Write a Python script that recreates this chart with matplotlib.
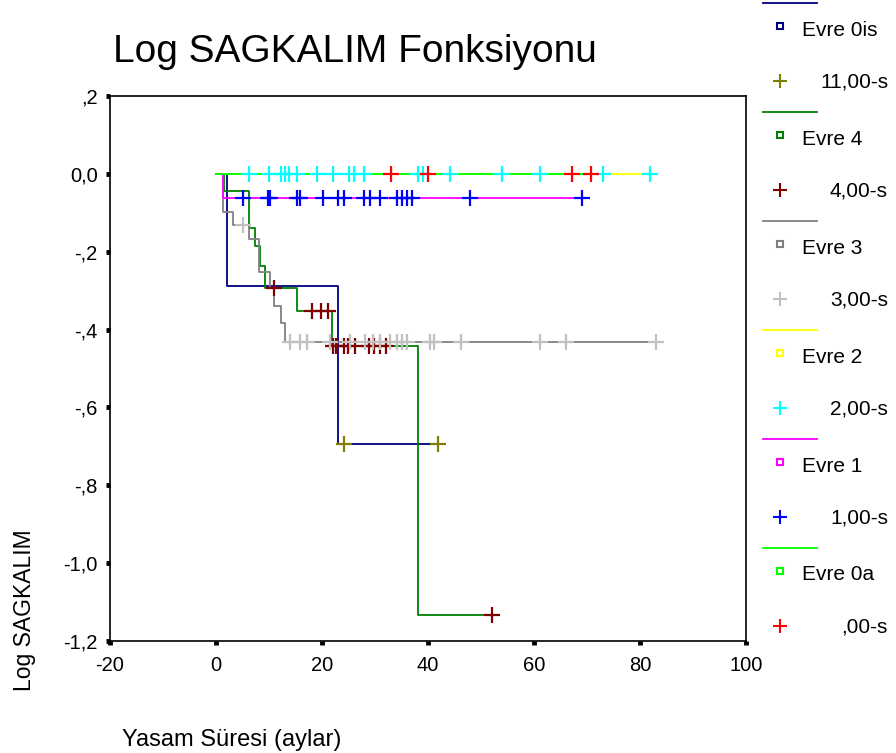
import numpy as np
import matplotlib
matplotlib.use("Agg")
import matplotlib.pyplot as plt

plt.rcParams['font.family'] = ['Liberation Sans', 'DejaVu Sans']

# ---------------- data ----------------
groups = ["Evre 0is", "Evre 4", "Evre 3", "Evre 2", "Evre 1", "Evre 0a"]
censor_labels = ["11,00-s", "4,00-s", "3,00-s", "2,00-s", "1,00-s", ",00-s"]
line_colors = ["#000080", "#008000", "#808080", "#FFFF00", "#FF00FF", "#00FF00"]
censor_colors = ["#808000", "#800000", "#C0C0C0", "#00FFFF", "#0000FF", "#FF0000"]

# step times and log-survival after each step
evre0is_t = [0, 2.0, 23.1]
evre0is_s = [0, -0.288, -0.693]
evre0is_end = 41.9
evre0is_c = [24.1, 41.9]

evre4_t = [0, 1.6, 6.3, 7.3, 8.3, 9.2, 15.3, 21.9, 38.2]
evre4_s = [0, -0.045, -0.138, -0.185, -0.236, -0.292, -0.353, -0.442, -1.132]
evre4_end = 52.0
evre4_c = [11.0, 18.1, 19.8, 21.1, 22.0, 22.6, 24.2, 24.9, 26.2, 28.8, 29.9,
           30.9, 32.1, 52.0]

evre3_t = [0, 1.3, 3.2, 6.2, 8.1, 10.1, 11.0, 12.2, 13.0]
evre3_s = [0, -0.097, -0.132, -0.168, -0.251, -0.292, -0.339, -0.384, -0.431]
evre3_end = 83.0
evre3_c = [5.1, 14.05, 15.9, 17.1, 21.6, 25.2, 28.2, 29.7, 31.0, 32.9, 34.1,
           35.1, 36.0, 40.4, 41.2, 46.2, 61.1, 66.1, 83.0]

evre2_t = [0]
evre2_s = [0]
evre2_end = 81.8
evre2_c = [6.3, 10.0, 12.2, 13.0, 13.7, 15.2, 19.1, 22.0, 25.1, 26.0, 28.0,
           38.2, 39.0, 44.2, 54.0, 61.1, 73.0, 81.8]

evre1_t = [0, 1.3]
evre1_s = [0, -0.061]
evre1_end = 69.0
evre1_c = [5.1, 9.9, 10.1, 15.3, 15.9, 20.1, 23.1, 24.2, 28.0, 29.1, 31.0,
           34.1, 35.1, 36.0, 37.0, 48.0, 69.0]

evre0a_t = [0]
evre0a_s = [0]
evre0a_end = 70.8
evre0a_c = [33.0, 40.0, 67.1, 70.8]

series = [
    (evre0is_t, evre0is_s, evre0is_end, evre0is_c),
    (evre4_t, evre4_s, evre4_end, evre4_c),
    (evre3_t, evre3_s, evre3_end, evre3_c),
    (evre2_t, evre2_s, evre2_end, evre2_c),
    (evre1_t, evre1_s, evre1_end, evre1_c),
    (evre0a_t, evre0a_s, evre0a_end, evre0a_c),
]

x_ticks = [-20, 0, 20, 40, 60, 80, 100]
x_ticklabels = ["-20", "0", "20", "40", "60", "80", "100"]
y_ticks = [0.2, 0.0, -0.2, -0.4, -0.6, -0.8, -1.0, -1.2]
y_ticklabels = [",2", "0,0", "-,2", "-,4", "-,6", "-,8", "-1,0", "-1,2"]

# ---------------- figure ----------------
W, H = 896, 753
fig = plt.figure(figsize=(W / 100, H / 100), dpi=100)
ax = fig.add_axes([110 / W, 1 - 641 / H, (746 - 110) / W, (641 - 96) / H])

draw_order = [2, 1, 0, 3, 4, 5]
for i in draw_order:
    t, s, end, c = series[i]
    tt = list(t) + [end]
    ss = list(s) + [s[-1]]
    ax.step(tt, ss, where='post', color=line_colors[i], lw=1.3, zorder=2 + i * 0.1)
for i in draw_order:
    t, s, end, c = series[i]
    idx = np.searchsorted(np.array(t), np.array(c), side='right') - 1
    cy = np.array(s)[idx]
    ax.plot(c, cy, ls='none', marker='+', ms=11, mew=1.6,
            color=censor_colors[i], zorder=3 + i * 0.1)

ax.set_xlim(-20, 100)
ax.set_ylim(-1.2, 0.2)
ax.set_xticks(x_ticks)
ax.set_xticklabels(x_ticklabels)
ax.set_yticks(y_ticks)
ax.set_yticklabels(y_ticklabels)
ax.tick_params(direction='out', length=3, width=3.5, labelsize=14.5, color='black')
ax.tick_params(axis='x', pad=8)
ax.tick_params(axis='y', pad=6)
for sp in ax.spines.values():
    sp.set_linewidth(1.2)
    sp.set_color('black')

# titles / labels
fig.text(113 / W, 1 - 52 / H, "Log SAGKALIM Fonksiyonu", fontsize=28,
         ha='left', va='center')
fig.text(25 / W, 1 - 610 / H, "Log SAGKALIM", fontsize=16.5, rotation=90,
         ha='center', va='center')
fig.text(122 / W, 1 - 740 / H, "Yasam Süresi (aylar)", fontsize=17,
         ha='left', va='center')

# ---------------- legend (pixel layout) ----------------
lax = fig.add_axes([0, 0, 1, 1], facecolor='none')
lax.set_xlim(0, W)
lax.set_ylim(H, 0)
lax.axis('off')
pitch = 109
for k in range(len(groups)):
    y0 = 3 + k * pitch
    lax.plot([763, 817], [y0, y0], color=line_colors[k], lw=1.3, clip_on=False)
    lax.plot([780], [y0 + 23], marker='s', ms=5, mfc='none', mew=1.5,
             color=line_colors[k], ls='none', clip_on=False)
    lax.text(802, y0 + 27, groups[k], fontsize=15, ha='left', va='center')
    lax.plot([780], [y0 + 78], marker='+', ms=10, mew=1.5,
             color=censor_colors[k], ls='none', clip_on=False)
    lax.text(888, y0 + 79, censor_labels[k], fontsize=15, ha='right', va='center')

fig.savefig("out.png", dpi=100)
